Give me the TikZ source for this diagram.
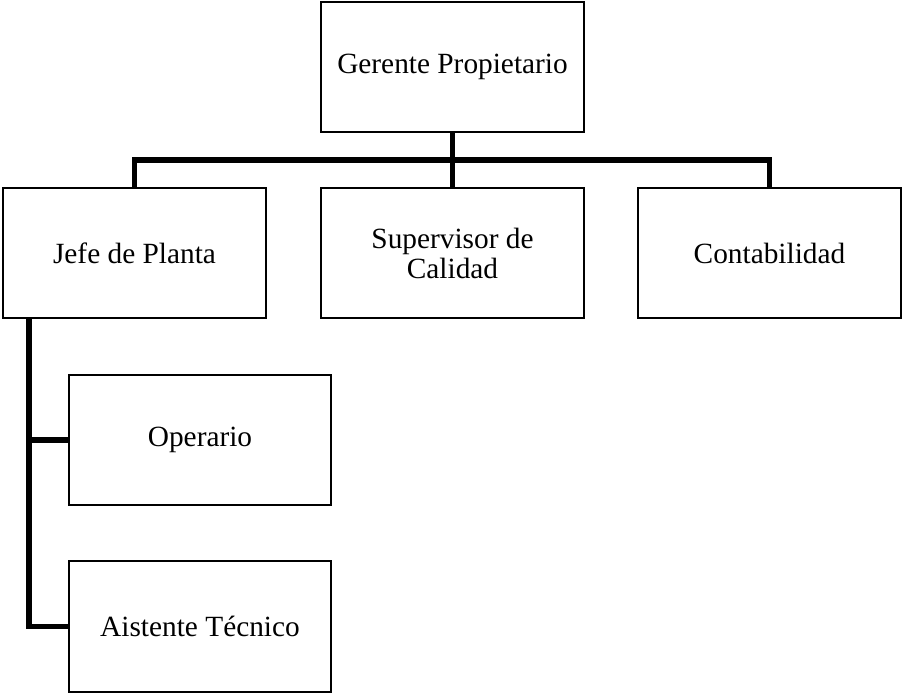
\documentclass[tikz,border=0pt]{standalone}
\usepackage{fontspec}
\setmainfont{Liberation Serif}
\begin{document}
\begin{tikzpicture}[x=0.75pt,y=-0.75pt,
	puesto/.style={draw,line width=1.7pt,minimum width=197pt,minimum height=98pt,inner sep=0pt,font=\fontsize{22}{22.5}\selectfont},
	enlace/.style={line width=4pt}]
	\useasboundingbox (0,0) rectangle (902,695);
	\node[puesto] (gerente) at (452.5,67) {Gerente Propietario};
	\node[puesto] (jefe) at (134.5,253) {Jefe de Planta};
	\node[puesto,align=center] (supervisor) at (452.5,253) {Supervisor de\\Calidad};
	\node[puesto] (conta) at (769.5,253) {Contabilidad};
	\node[puesto] (operario) at (200,440) {Operario};
	\node[puesto] (asistente) at (200,626.5) {Aistente Técnico};
	\coordinate (bus) at (452.5,160);
	\coordinate (eje) at (29,318);
	\draw[enlace] (gerente.south) -- (supervisor.north);
	\draw[enlace] (jefe.north) |- (bus) -| (conta.north);
	\draw[enlace] (jefe.south -| eje) |- (asistente.west);
	\draw[enlace] (eje |- operario.west) -- (operario.west);
\end{tikzpicture}
\end{document}
